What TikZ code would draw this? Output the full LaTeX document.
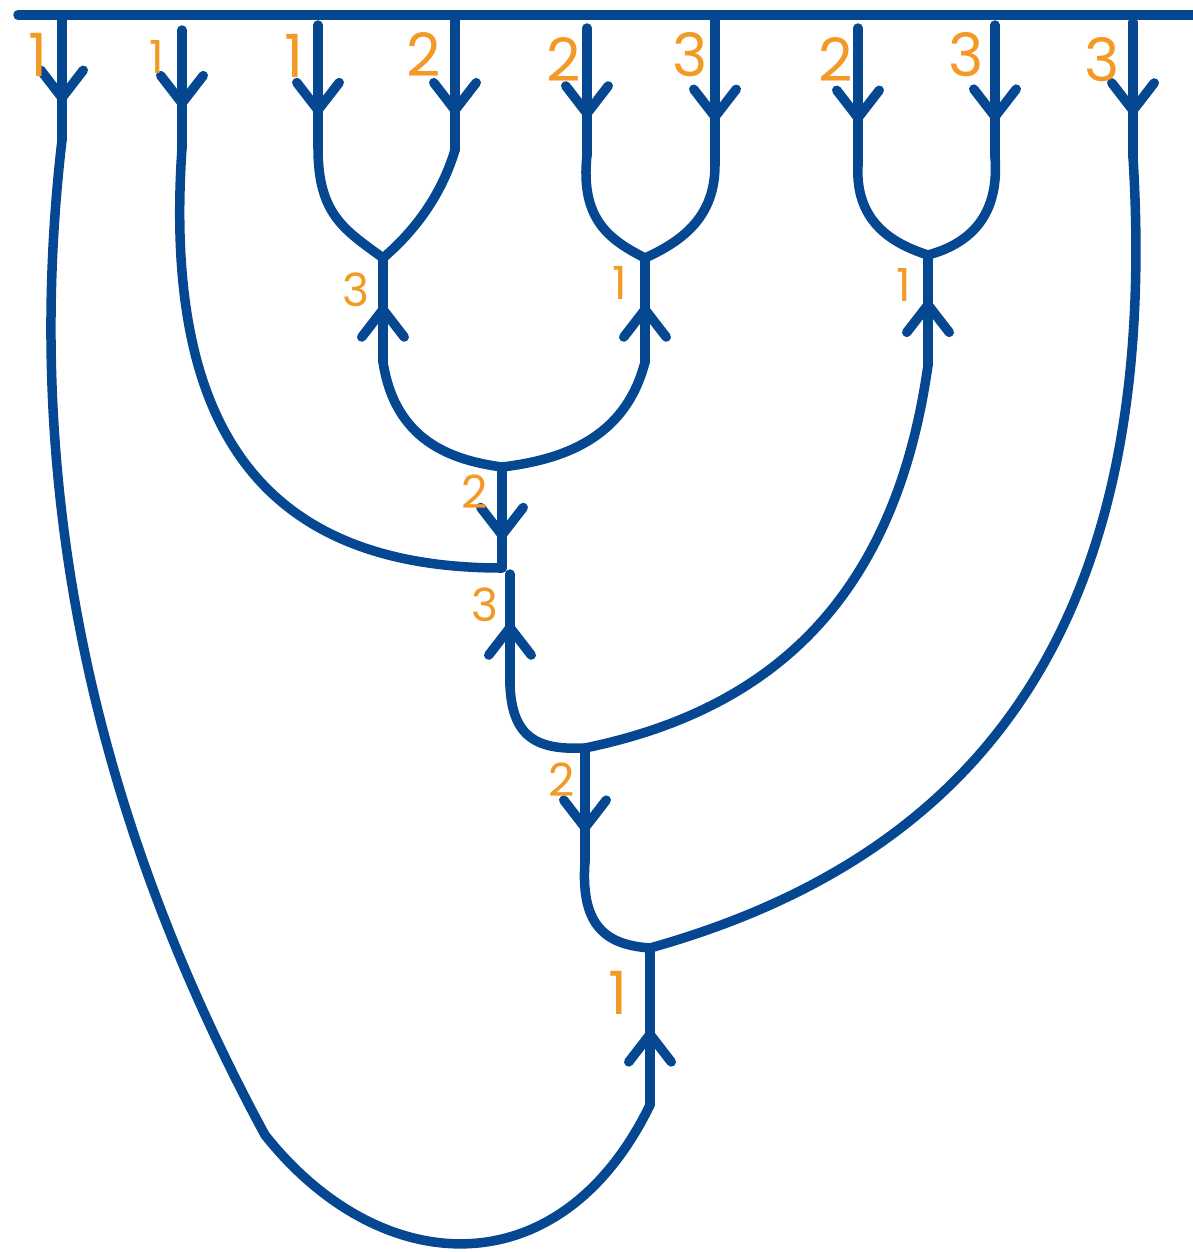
\documentclass[tikz,border=0pt]{standalone}
\usepackage{fontspec}
\setsansfont{Poppins}
\usetikzlibrary{arrows.meta,decorations.markings}
\definecolor{strandblue}{HTML}{054891}
\definecolor{labelorange}{HTML}{F39A26}

\begin{document}
\begin{tikzpicture}[x=0.02cm,y=-0.02cm]

	\tikzset{
	  strand/.style={strandblue, line width=0.19cm, line cap=round, line join=round},
	  flowdown/.style={postaction={decorate,decoration={markings,
	    mark=at position #1 with {\arrow{Straight Barb[length=0.55cm,width=0.85cm,round]}}}}},
	  flowup/.style={postaction={decorate,decoration={markings,
	    mark=at position #1 with {\arrowreversed{Straight Barb[length=0.55cm,width=0.85cm,round]}}}}},
	  weight/.style={text=labelorange, inner sep=0pt, font=\sffamily\fontsize{34}{34}\selectfont},
	  smallweight/.style={weight, font=\sffamily\fontsize{26}{26}\selectfont},
	}
	\useasboundingbox (0,0) rectangle (1193,1252);
	% top boundary
	\coordinate (bl) at (18,15);
	\coordinate (br) at (1210,15);
	\draw[strand] (bl)--(br);
	% leaves
	\coordinate (t1) at (62,15);   \coordinate (b1) at (62,140);
	\coordinate (t2) at (182,30);  \coordinate (b2) at (182,148);
	\coordinate (t3) at (318,25);  \coordinate (b3) at (318,148);
	\coordinate (t4) at (455,15);  \coordinate (b4) at (455,150);
	\coordinate (t5) at (587,28);  \coordinate (b5) at (587,155);
	\coordinate (t6) at (715,15);  \coordinate (b6) at (715,165);
	\coordinate (t7) at (858,28);  \coordinate (b7) at (858,165);
	\coordinate (t8) at (995,25);  \coordinate (b8) at (995,157);
	\coordinate (t9) at (1133,22); \coordinate (b9) at (1133,157);
	\draw[strand,flowdown=0.70] (t1)--(b1);
	\draw[strand,flowdown=0.66] (t2)--(b2);
	\draw[strand,flowdown=0.73] (t3)--(b3);
	\draw[strand,flowdown=0.74] (t4)--(b4);
	\draw[strand,flowdown=0.71] (t5)--(b5);
	\draw[strand,flowdown=0.71] (t6)--(b6);
	\draw[strand,flowdown=0.69] (t7)--(b7);
	\draw[strand,flowdown=0.73] (t8)--(b8);
	\draw[strand,flowdown=0.69] (t9)--(b9);
	% vertices and stems
	\coordinate (v1) at (383,258); \coordinate (w1) at (383,362);
	\coordinate (v2) at (645,258); \coordinate (w2) at (645,362);
	\coordinate (v3) at (928,255); \coordinate (w3) at (928,365);
	\coordinate (v4) at (502,467); \coordinate (w4) at (502,568);
	\coordinate (v5) at (510,574); \coordinate (w5) at (510,685);
	\coordinate (v6) at (585,748); \coordinate (w6) at (585,862);
	\coordinate (v7) at (650,948); \coordinate (w7) at (650,1105);
	\coordinate (kink) at (265,1135);
	\draw[strand,flowup=0.45] (v1)--(w1);
	\draw[strand,flowup=0.45] (v2)--(w2);
	\draw[strand,flowup=0.41] (v3)--(w3);
	\draw[strand,flowdown=0.72] (v4)--(w4);
	\draw[strand,flowup=0.44] (v5)--(w5);
	\draw[strand,flowdown=0.74] (v6)--(w6);
	\draw[strand,flowup=0.52] (v7)--(w7);
	% merging strands
	\draw[strand] (b3) .. controls (318,215) and (345,230) .. (v1);
	\draw[strand] (b4) .. controls (440,200) and (410,235) .. (v1);
	\draw[strand] (b5) .. controls (580,220) and (610,240) .. (v2);
	\draw[strand] (b6) .. controls (715,215) and (685,240) .. (v2);
	\draw[strand] (b7) .. controls (855,220) and (890,243) .. (v3);
	\draw[strand] (b8) .. controls (1000,220) and (965,245) .. (v3);
	\draw[strand] (w1) .. controls (395,440) and (450,460) .. (v4);
	\draw[strand] (w2) .. controls (625,440) and (560,460) .. (v4);
	\draw[strand] (b2) .. controls (165,400) and (240,568) .. (w4);
	\draw[strand] (w5) .. controls (512,740) and (540,750) .. (v6);
	\draw[strand] (w3) .. controls (895,600) and (770,710) .. (v6);
	\draw[strand] (w6) .. controls (580,930) and (610,945) .. (v7);
	\draw[strand] (b9) .. controls (1160,600) and (1000,850) .. (v7);
	\draw[strand] (w7) .. controls (560,1290) and (380,1280) .. (kink);
	\draw[strand] (kink) .. controls (100,830) and (20,500) .. (b1);
	% weights
	\node[weight] (l1) at (38,55) {1};
	\node[smallweight] (l2) at (157,57) {1};
	\node[weight] (l3) at (294,56) {1};
	\node[weight] (l4) at (424,55) {2};
	\node[weight] (l5) at (564,60) {2};
	\node[weight] (l6) at (690,55) {3};
	\node[weight] (l7) at (836,60) {2};
	\node[weight] (l8) at (966,55) {3};
	\node[weight] (l9) at (1102,60) {3};
	\node[smallweight] (m1) at (356,290) {3};
	\node[smallweight] (m2) at (620,283) {1};
	\node[smallweight] (m3) at (904,285) {1};
	\node[smallweight] (m4) at (475,492) {2};
	\node[smallweight] (m5) at (485,605) {3};
	\node[smallweight] (m6) at (562,780) {2};
	\node[weight] (m7) at (618,993) {1};

\end{tikzpicture}
\end{document}
